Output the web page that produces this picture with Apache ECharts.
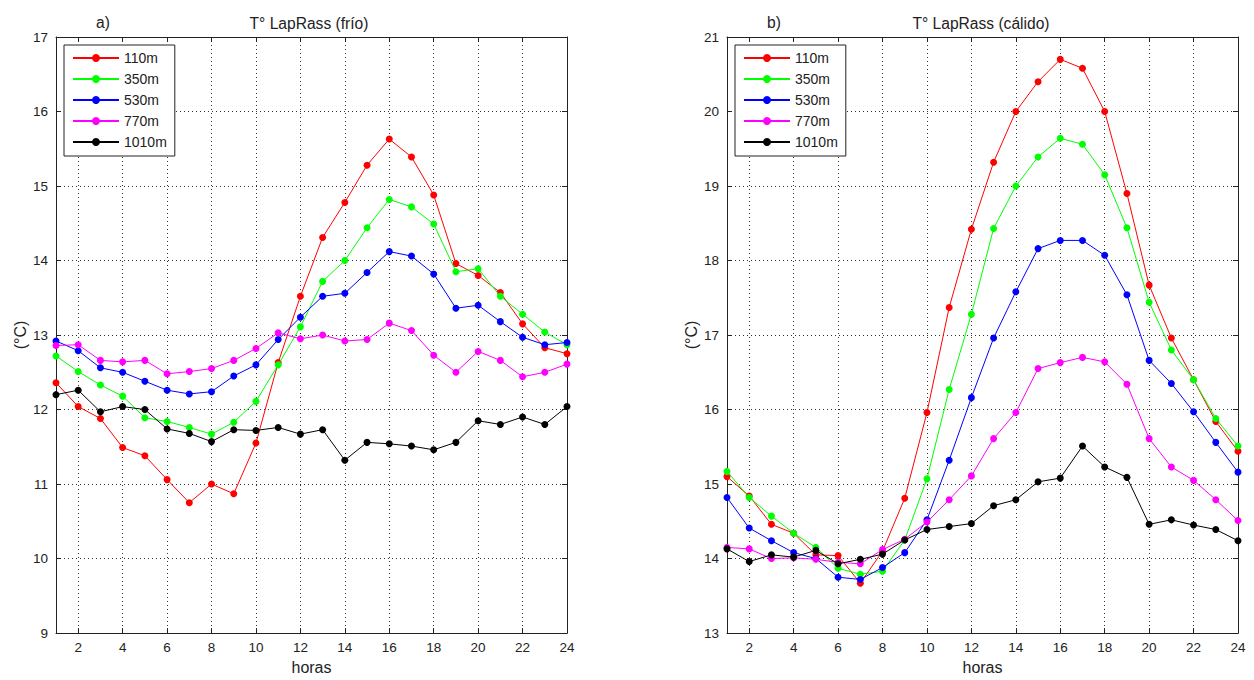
<!DOCTYPE html>
<html>
<head>
<meta charset="utf-8">
<script src="https://cdn.jsdelivr.net/npm/echarts@6/dist/echarts.min.js"></script>
<style>
html,body{margin:0;padding:0;background:#fff;}
#chart{width:1254px;height:680px;}
</style>
</head>
<body>
<div id="chart"></div>
<script>
// ---- data ----
const hours = [1,2,3,4,5,6,7,8,9,10,11,12,13,14,15,16,17,18,19,20,21,22,23,24];
const xTicks = [2,4,6,8,10,12,14,16,18,20,22,24];
const seriesNames = ['110m','350m','530m','770m','1010m'];
const seriesColors = ['#ff0000','#00ff00','#0000ff','#ff00ff','#000000'];

// a) T° LapRass (frío)
const frio110  = [12.36,12.04,11.88,11.49,11.38,11.06,10.75,11.00,10.87,11.55,12.63,13.52,14.31,14.78,15.28,15.63,15.39,14.88,13.96,13.80,13.57,13.15,12.83,12.75];
const frio350  = [12.72,12.51,12.33,12.18,11.89,11.84,11.76,11.67,11.83,12.11,12.60,13.11,13.72,14.00,14.44,14.82,14.72,14.49,13.85,13.89,13.52,13.28,13.04,12.87];
const frio530  = [12.92,12.79,12.56,12.50,12.38,12.26,12.21,12.24,12.45,12.60,12.94,13.24,13.52,13.56,13.84,14.12,14.06,13.82,13.36,13.40,13.18,12.97,12.87,12.90];
const frio770  = [12.86,12.87,12.66,12.64,12.66,12.48,12.51,12.55,12.66,12.82,13.03,12.95,13.00,12.92,12.94,13.16,13.06,12.73,12.50,12.78,12.66,12.44,12.50,12.61];
const frio1010 = [12.20,12.26,11.97,12.04,12.00,11.74,11.68,11.57,11.73,11.72,11.76,11.67,11.73,11.32,11.56,11.54,11.51,11.46,11.56,11.85,11.80,11.90,11.80,12.04];

// b) T° LapRass (cálido)
const cal110  = [15.10,14.84,14.46,14.34,14.05,14.04,13.67,14.10,14.81,15.96,17.37,18.42,19.32,20.00,20.40,20.70,20.58,20.00,18.90,17.67,16.96,16.40,15.84,15.44];
const cal350  = [15.17,14.82,14.57,14.34,14.15,13.87,13.79,13.83,14.25,15.07,16.27,17.28,18.43,19.00,19.39,19.64,19.56,19.15,18.44,17.44,16.80,16.40,15.88,15.51];
const cal530  = [14.82,14.41,14.24,14.08,14.00,13.75,13.72,13.88,14.08,14.52,15.32,16.16,16.96,17.58,18.16,18.27,18.27,18.07,17.54,16.66,16.35,15.97,15.56,15.16];
const cal770  = [14.15,14.13,14.00,14.01,13.99,13.95,13.93,14.12,14.26,14.49,14.79,15.11,15.61,15.96,16.55,16.63,16.70,16.64,16.34,15.61,15.23,15.05,14.79,14.51];
const cal1010 = [14.13,13.96,14.05,14.02,14.11,13.93,13.99,14.06,14.25,14.39,14.43,14.47,14.71,14.79,15.03,15.08,15.51,15.23,15.09,14.46,14.52,14.45,14.39,14.24];

const frioSets = [frio110, frio350, frio530, frio770, frio1010];
const calSets  = [cal110, cal350, cal530, cal770, cal1010];

// ---- chart ----
const FONT = '"Liberation Sans", Arial, Helvetica, sans-serif';
const TXT = '#222';
const chart = echarts.init(document.getElementById('chart'), null, {renderer: 'svg'});

function bottomX(gi) {
  return {
    type: 'value', gridIndex: gi, min: 1, max: 24, position: 'bottom',
    name: 'horas', nameLocation: 'middle', nameGap: 25,
    nameTextStyle: {color: TXT, fontSize: 16, fontFamily: FONT},
    axisLine: {show: true, onZero: false, lineStyle: {color: '#222', width: 1}},
    axisTick: {show: true, inside: true, length: 5, customValues: xTicks, lineStyle: {color: '#222'}},
    axisLabel: {show: true, customValues: xTicks, color: TXT, fontSize: 13.5, fontFamily: FONT, margin: 7},
    splitLine: {show: true, lineStyle: {color: '#333', type: [1, 3], width: 1}}
  };
}
function topX(gi) {
  return {
    type: 'value', gridIndex: gi, min: 1, max: 24, position: 'top',
    axisLine: {show: true, onZero: false, lineStyle: {color: '#222', width: 1}},
    axisTick: {show: true, inside: true, length: 5, customValues: xTicks, lineStyle: {color: '#222'}},
    axisLabel: {show: false}, splitLine: {show: false}
  };
}
function leftY(gi, mn, mx) {
  return {
    type: 'value', gridIndex: gi, min: mn, max: mx, interval: 1, position: 'left',
    name: '(°C)', nameLocation: 'middle', nameGap: 28, nameRotate: 90,
    nameTextStyle: {color: TXT, fontSize: 16, fontFamily: FONT},
    axisLine: {show: true, onZero: false, lineStyle: {color: '#222', width: 1}},
    axisTick: {show: true, inside: true, length: 5, lineStyle: {color: '#222'}},
    axisLabel: {show: true, color: TXT, fontSize: 13.5, fontFamily: FONT, margin: 8},
    splitLine: {show: true, lineStyle: {color: '#333', type: [1, 3], width: 1}}
  };
}
function rightY(gi, mn, mx) {
  return {
    type: 'value', gridIndex: gi, min: mn, max: mx, interval: 1, position: 'right',
    axisLine: {show: true, onZero: false, lineStyle: {color: '#222', width: 1}},
    axisTick: {show: true, inside: true, length: 5, lineStyle: {color: '#222'}},
    axisLabel: {show: false}, splitLine: {show: false}
  };
}
function legendAt(left) {
  return {
    orient: 'vertical', left: left, top: 45,
    data: seriesNames,
    backgroundColor: '#fff', borderColor: '#222', borderWidth: 1,
    padding: [6, 8, 7, 8], itemWidth: 46, itemHeight: 10, itemGap: 7,
    selectedMode: false,
    textStyle: {color: TXT, fontSize: 14, fontFamily: FONT}
  };
}

const series = [];
[frioSets, calSets].forEach(function (sets, p) {
  sets.forEach(function (vals, i) {
    series.push({
      type: 'line', name: seriesNames[i],
      xAxisIndex: p * 2, yAxisIndex: p * 2,
      data: hours.map(function (h, k) { return [h, vals[k]]; }),
      symbol: 'circle', symbolSize: 7, showSymbol: true,
      lineStyle: {color: seriesColors[i], width: 1},
      itemStyle: {color: seriesColors[i]},
      z: 3 + i
    });
  });
});

chart.setOption({
  animation: false,
  backgroundColor: '#fff',
  grid: [
    {left: 56, top: 37, width: 511, height: 599, containLabel: false},
    {left: 727, top: 37, width: 511, height: 599, containLabel: false}
  ],
  xAxis: [bottomX(0), topX(0), bottomX(1), topX(1)],
  yAxis: [leftY(0, 9, 17), rightY(0, 9, 17), leftY(1, 13, 21), rightY(1, 13, 21)],
  legend: [legendAt(64), legendAt(735)],
  graphic: [
    {type: 'text', left: 96, top: 14, style: {text: 'a)', fill: TXT, font: '15.6px ' + FONT}},
    {type: 'text', x: 309, y: 23, style: {text: 'T° LapRass (frío)', fill: TXT, font: '15.6px ' + FONT, textAlign: 'center', textVerticalAlign: 'middle'}},
    {type: 'text', left: 767, top: 14, style: {text: 'b)', fill: TXT, font: '15.6px ' + FONT}},
    {type: 'text', x: 981, y: 23, style: {text: 'T° LapRass (cálido)', fill: TXT, font: '15.6px ' + FONT, textAlign: 'center', textVerticalAlign: 'middle'}}
  ],
  series: series
});
</script>
</body>
</html>
